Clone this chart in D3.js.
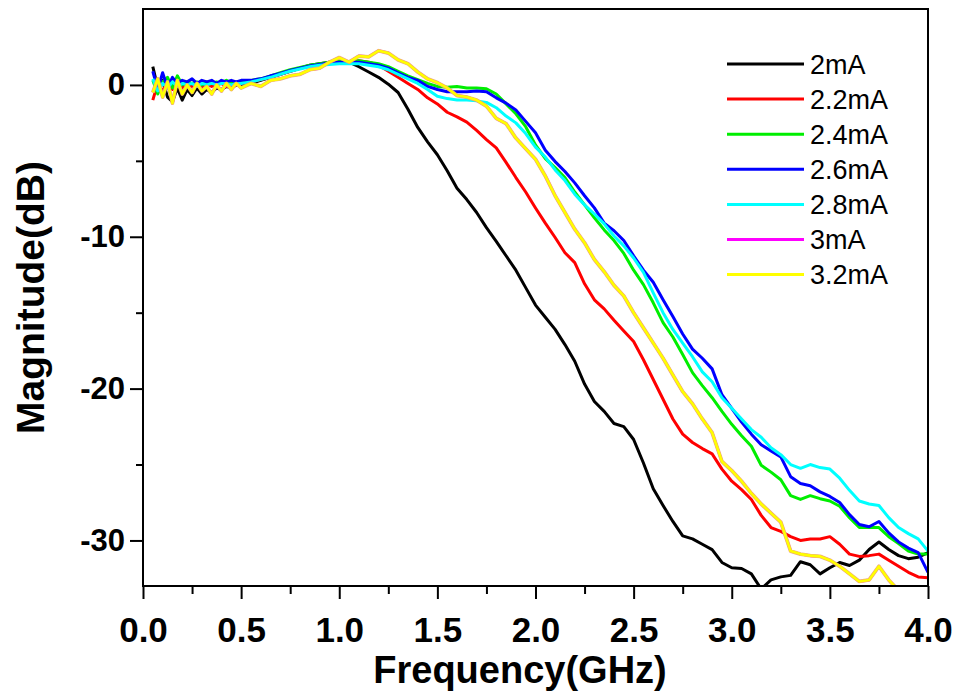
<!DOCTYPE html>
<html>
<head>
<meta charset="utf-8">
<script src="https://cdn.jsdelivr.net/npm/d3@7"></script>
<style>
  body { margin: 0; background: #fff; }
  text { font-family: "Liberation Sans", Arial, sans-serif; }
</style>
</head>
<body>
<svg id="chart" width="955" height="693"></svg>
<script>
// frequency points (GHz), shared by every trace
const freq = [
  0.05, 0.075, 0.1, 0.125, 0.15, 0.175, 0.2, 0.225, 0.25, 0.275, 0.3, 0.325, 0.35, 0.375, 0.4, 0.425, 0.45, 0.475, 0.5,
  0.55, 0.6, 0.65, 0.7, 0.75, 0.8, 0.85, 0.9, 0.95, 1.0,
  1.05, 1.1, 1.15, 1.2, 1.25, 1.3, 1.35, 1.4, 1.45, 1.5,
  1.55, 1.6, 1.65, 1.7, 1.75, 1.8, 1.85, 1.9, 1.95, 2.0,
  2.05, 2.1, 2.15, 2.2, 2.25, 2.3, 2.35, 2.4, 2.45, 2.5,
  2.55, 2.6, 2.65, 2.7, 2.75, 2.8, 2.85, 2.9, 2.95, 3.0,
  3.05, 3.1, 3.15, 3.2, 3.25, 3.3, 3.35, 3.4, 3.45, 3.5,
  3.55, 3.6, 3.65, 3.7, 3.75, 3.8, 3.85, 3.9, 3.95, 4.0
];

// magnitude (dB) per bias current
const i20 = [
  1.2, -0.2, 0.3, -0.8, -1.1, -0.2, -1.0, -0.3, -0.7, -0.2, -0.6, -0.3, -0.5, -0.2, -0.3, -0.1, -0.2, 0.0, 0.0,
  0.1, 0.3, 0.5, 0.7, 0.9, 1.1, 1.3, 1.4, 1.5, 1.5,
  1.5, 1.2, 0.85, 0.5, 0.05, -0.5, -1.6, -2.8, -3.75, -4.6,
  -5.65, -6.8, -7.55, -8.4, -9.4, -10.3, -11.25, -12.2, -13.35, -14.5,
  -15.3, -16.1, -17.1, -18.2, -19.7, -20.85, -21.5, -22.3, -22.5, -23.35,
  -24.9, -26.6, -27.7, -28.75, -29.7, -29.9, -30.25, -30.6, -31.45, -31.8,
  -31.85, -32.2, -33.2, -32.6, -32.4, -32.3, -31.4, -31.6, -32.2, -31.8,
  -31.45, -31.65, -31.3, -30.6, -30.1, -30.6, -31.0, -31.2, -31.1, -30.8
];
const i22 = [
  -1.0, 0.1, -0.4, 0.2, -0.3, 0.0, -0.2, 0.1, -0.1, 0.0, -0.2, 0.1, -0.1, 0.0, 0.1, -0.1, 0.1, 0.0, 0.1,
  0.2, 0.35, 0.5, 0.7, 0.9, 1.1, 1.25, 1.35, 1.45, 1.45,
  1.5, 1.6, 1.5, 1.3, 0.9, 0.5, 0.1, -0.3, -0.85, -1.25,
  -1.8, -2.1, -2.45, -3.0, -3.6, -4.15, -5.1, -6.1, -7.05, -8.1,
  -9.1, -10.05, -11.05, -11.7, -13.1, -14.15, -14.75, -15.5, -16.2, -16.9,
  -18.1, -19.4, -20.7, -22.0, -23.0, -23.55, -23.95, -24.3, -25.3, -26.1,
  -26.65, -27.3, -28.35, -29.15, -29.4, -29.75, -30.0, -29.9, -29.9, -29.75,
  -30.25, -30.9, -31.05, -31.0, -30.9, -31.3, -31.7, -32.1, -32.4, -32.45
];
const i24 = [
  0.3, -0.6, 0.2, 0.5, -0.2, 0.6, 0.0, 0.2, 0.1, 0.2, 0.0, 0.2, 0.1, 0.2, 0.1, 0.3, 0.1, 0.2, 0.2,
  0.3, 0.4, 0.6, 0.8, 1.0, 1.15, 1.3, 1.4, 1.5, 1.55,
  1.55, 1.6, 1.5, 1.4, 1.2, 0.9, 0.6, 0.35, 0.1, -0.1,
  -0.15, -0.1, -0.2, -0.2, -0.25, -0.6, -1.25, -1.9, -2.75, -3.95,
  -4.85, -5.45, -6.1, -7.05, -7.9, -8.75, -9.55, -10.25, -11.1, -12.2,
  -13.15, -14.35, -15.65, -16.6, -17.75, -18.95, -19.8, -20.6, -21.5, -22.35,
  -23.1, -23.8, -25.05, -25.5, -26.0, -27.05, -27.3, -27.05, -27.25, -27.4,
  -27.75, -28.5, -29.15, -29.15, -29.15, -29.75, -30.2, -30.7, -30.9, -30.9
];
const i26 = [
  0.9, -0.3, 0.8, -0.2, 0.5, 0.1, 0.3, 0.2, 0.4, 0.1, 0.3, 0.2, 0.3, 0.1, 0.3, 0.2, 0.3, 0.2, 0.3,
  0.3, 0.4, 0.6, 0.75, 0.95, 1.1, 1.25, 1.35, 1.45, 1.5,
  1.5, 1.5, 1.4, 1.3, 1.1, 0.8, 0.5, 0.3, -0.1, -0.3,
  -0.45, -0.45, -0.45, -0.4, -0.45, -0.85, -1.2, -1.65, -2.4, -3.15,
  -4.3, -5.05, -5.7, -6.45, -7.3, -8.1, -9.1, -9.6, -10.25, -11.25,
  -12.2, -13.0, -14.15, -15.25, -16.4, -17.4, -18.0, -18.7, -20.4, -21.3,
  -22.2, -23.0, -23.7, -24.1, -24.5, -25.8, -26.25, -26.4, -26.8, -27.1,
  -27.5, -28.3, -28.95, -29.1, -28.75, -29.5, -30.1, -30.5, -30.8, -32.1
];
const i28 = [
  0.4, -0.4, 0.1, -0.2, 0.2, -0.1, 0.1, 0.0, 0.1, -0.1, 0.1, 0.0, 0.1, 0.0, 0.1, 0.1, 0.0, 0.1, 0.1,
  0.2, 0.35, 0.5, 0.7, 0.9, 1.05, 1.2, 1.3, 1.35, 1.4,
  1.4, 1.4, 1.3, 1.2, 1.0, 0.7, 0.4, 0.1, -0.3, -0.75,
  -0.9, -1.0, -1.0, -1.05, -1.15, -1.5, -2.05, -2.5, -3.2, -4.1,
  -4.75, -5.6, -6.3, -7.2, -7.9, -8.5, -9.15, -9.95, -10.6, -11.4,
  -12.35, -13.7, -15.0, -16.1, -17.0, -17.9, -18.9, -19.55, -20.6, -21.3,
  -22.0, -22.7, -23.2, -23.9, -24.35, -25.0, -25.25, -25.0, -25.2, -25.3,
  -25.9, -26.7, -27.4, -27.6, -27.7, -28.5, -29.15, -29.55, -29.9, -30.7
];
const i32 = [
  -0.5, 0.4, -0.8, 0.2, -1.2, 0.3, -0.6, 0.0, -0.5, 0.1, -0.4, -0.1, -0.6, 0.0, -0.4, 0.1, -0.3, 0.1, -0.2,
  0.1, -0.1, 0.3, 0.4, 0.6, 0.7, 1.0, 1.1, 1.5, 1.8,
  1.5, 1.9, 1.85, 2.25, 2.1, 1.65, 1.4, 0.85, 0.4, 0.15,
  -0.2, -0.7, -0.8, -1.0, -1.4, -2.2, -2.55, -3.5, -4.2, -4.9,
  -6.0, -7.3, -8.4, -9.5, -10.4, -11.5, -12.3, -13.2, -13.9, -15.0,
  -16.0, -17.0, -18.0, -19.1, -20.2, -21.0, -22.0, -22.9, -24.8, -25.4,
  -26.1, -26.9, -27.6, -28.2, -28.8, -30.7, -30.9, -31.0, -31.05, -31.3,
  -31.7, -32.2, -32.7, -32.6, -31.7, -32.6, -33.3, -34.3, -35.0, -35.5
];
// the 3mA trace sits exactly under the 3.2mA one
const i30 = i32;

const labels = ['2mA', '2.2mA', '2.4mA', '2.6mA', '2.8mA', '3mA', '3.2mA'];
const colors = ['#000000', '#ff0000', '#00ee00', '#0000ff', '#00ffff', '#ff00ff', '#ffff00'];
const values = [i20, i22, i24, i26, i28, i30, i32];

const xMajor = [0, 0.5, 1.0, 1.5, 2.0, 2.5, 3.0, 3.5, 4.0];
const xMinor = [0.25, 0.75, 1.25, 1.75, 2.25, 2.75, 3.25, 3.75];
const yMajor = [0, -10, -20, -30];
const yMinor = [-5, -15, -25];

const svg = d3.select('#chart');
const margin = { left: 143, right: 27, top: 9, bottom: 107 };
const W = 955, H = 693;

const x = d3.scaleLinear().domain([0, 4]).range([margin.left, W - margin.right]);
const y = d3.scaleLinear().domain([-33, 5]).range([H - margin.bottom, margin.top]);

const series = labels.map((name, i) => ({
	name,
	color: colors[i],
	points: freq.map((f, k) => ({ f, v: values[i][k] })),
}));

svg.append('clipPath').attr('id', 'plot-clip')
	.append('rect')
	.attr('x', x(0)).attr('y', y(5))
	.attr('width', x(4) - x(0)).attr('height', y(-33) - y(5));

const line = d3.line()
	.x((d) => x(d.f))
	.y((d) => y(d.v));

const traces = svg.append('g').attr('clip-path', 'url(#plot-clip)');

// draw order: 3.2mA last so it covers 3mA
series.forEach((s) => {
	if (s.name === '3.2mA') {
		// soft orange rim the yellow trace has in the original
		traces.append('path')
			.attr('d', line(s.points))
			.attr('fill', 'none')
			.attr('stroke', '#e9b46a')
			.attr('stroke-width', 3.8)
			.attr('stroke-linejoin', 'round')
			.attr('opacity', 0.8);
	}
	traces.append('path')
		.attr('class', 'trace')
		.attr('d', line(s.points))
		.attr('fill', 'none')
		.attr('stroke', s.color)
		.attr('stroke-width', s.name === '3.2mA' ? 2.6 : 3)
		.attr('stroke-linejoin', 'round');
});

// axes
const styleAxis = (g) => {
	g.select('.domain').remove();
	g.selectAll('.tick line').attr('stroke', '#000').attr('stroke-width', 2);
};
const boldText = (size) => (g) => g.selectAll('.tick text')
	.attr('fill', '#000')
	.style('font-size', size)
	.style('font-weight', 'bold')
	.style('font-family', '"Liberation Sans", Arial, sans-serif');

svg.append('g')
	.attr('transform', `translate(0,${y(-33)})`)
	.call(d3.axisBottom(x).tickValues(xMinor).tickSize(8).tickFormat(''))
	.call(styleAxis);

svg.append('g')
	.attr('transform', `translate(0,${y(-33)})`)
	.call(d3.axisBottom(x).tickValues(xMajor).tickSize(13).tickPadding(18).tickFormat(d3.format('.1f')))
	.call(styleAxis)
	.call(boldText('35px'));

svg.append('g')
	.attr('transform', `translate(${x(0)},0)`)
	.call(d3.axisLeft(y).tickValues(yMinor).tickSize(7).tickFormat(''))
	.call(styleAxis);

svg.append('g')
	.attr('transform', `translate(${x(0)},0)`)
	.call(d3.axisLeft(y).tickValues(yMajor).tickSize(13).tickPadding(5).tickFormat((d) => String(d)))
	.call(styleAxis)
	.call(boldText('31px'));

// frame
svg.append('rect')
	.attr('x', x(0)).attr('y', y(5))
	.attr('width', x(4) - x(0)).attr('height', y(-33) - y(5))
	.attr('fill', 'none')
	.attr('stroke', '#000')
	.attr('stroke-width', 2);

// axis titles
svg.append('text')
	.attr('x', 520).attr('y', 683)
	.attr('text-anchor', 'middle')
	.style('font-size', '38px')
	.style('font-weight', 'bold')
	.text('Frequency(GHz)');

svg.append('text')
	.attr('transform', `translate(44,${(y(5) + y(-33)) / 2}) rotate(-90)`)
	.attr('text-anchor', 'middle')
	.style('font-size', '39px')
	.style('font-weight', 'bold')
	.text('Magnitude(dB)');

// legend
const legend = svg.append('g').attr('transform', 'translate(727,64)');
const rows = legend.selectAll('g')
	.data(series)
	.join('g')
	.attr('transform', (d, i) => `translate(0,${i * 35.1})`);

rows.append('line')
	.attr('x1', 0).attr('x2', 77)
	.attr('stroke', (d) => d.color)
	.attr('stroke-width', 3);

rows.append('text')
	.attr('x', 83)
	.attr('dy', '0.36em')
	.style('font-size', '27px')
	.text((d) => d.name);
</script>
</body>
</html>
